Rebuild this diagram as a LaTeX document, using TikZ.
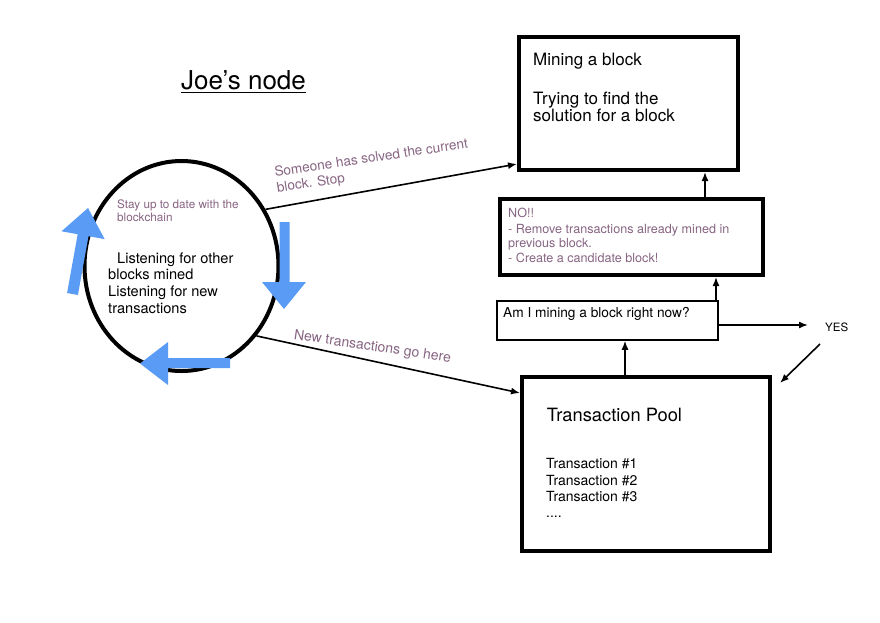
\documentclass[tikz,border=0pt]{standalone}
\usepackage{fontspec}
\setmainfont{TeX Gyre Heros}
\usetikzlibrary{arrows.meta,shapes.geometric}
\definecolor{mauve}{RGB}{135,100,130}
\definecolor{arrblue}{RGB}{90,156,245}
\newcommand{\fs}[1]{\fontsize{#1}{#1}\selectfont}
\begin{document}
\begin{tikzpicture}[x=1pt,y=-1pt,
  thickbox/.style={draw, line width=4pt, inner sep=0pt},
  thinbox/.style={draw, line width=1.5pt, inner sep=0pt},
  txt/.style={anchor=base west, inner sep=0pt},
  arr/.style={line width=1.6pt, -{Latex[length=9pt,width=7pt]}},
  bluearr/.style={fill=arrblue}]
\fill[white] (0,0) rectangle (880,622);
\useasboundingbox (0,0) rectangle (880,622);

% title
\node[txt, font=\fs{26}] (title) at (181,89) {Joe’s node};
\draw[line width=1.5pt] ([shift={(0,3.5)}]title.base west) -- ([shift={(0,3.5)}]title.base east);

% circle
\node[draw, ellipse, line width=4pt, minimum width=194pt, minimum height=210pt, inner sep=0pt] (circ) at (181.5,266) {};

% boxes
\node[thickbox, minimum width=219pt, minimum height=133pt] (mine) at (628.5,103.5) {};
\node[thickbox, minimum width=263pt, minimum height=76pt] (no) at (631.5,237) {};
\node[thinbox, minimum width=221pt, minimum height=39pt] (am) at (607.5,320.5) {};
\node[thickbox, minimum width=248pt, minimum height=174pt] (pool) at (646,464) {};
\node[txt, font=\fs{11.5}] (yes) at (825,331) {YES};

% blue cycle arrows
\fill[bluearr] (67.1,293.0) -- (77.9,295.0) -- (88.5,236.2) -- (104.7,239.1) -- (88,208) -- (61.5,231.3) -- (77.7,234.2) -- cycle;
\fill[bluearr] (279.5,222) -- (289.5,222) -- (289.5,282) -- (306,282) -- (284,309) -- (262,282) -- (279.5,282) -- cycle;
\fill[bluearr] (230,358) -- (230,368) -- (168,368) -- (168,385) -- (140,363.5) -- (168,342) -- (168,358) -- cycle;

% circle texts
\node[txt, mauve, font=\fs{11.7}] (s1) at (117,208) {Stay up to date with the};
\node[txt, mauve, font=\fs{11.7}] (s2) at (117,221) {blockchain};
\node[txt, font=\fs{14.6}] (l1) at (117,263.3) {Listening for other};
\node[txt, font=\fs{14.6}] (l2) at (108,279.3) {blocks mined};
\node[txt, font=\fs{14.6}] (l3) at (108,296.7) {Listening for new};
\node[txt, font=\fs{14.6}] (l4) at (108,313.3) {transactions};

% mining box texts
\node[txt, font=\fs{17}] (m1) at (533,65.7) {Mining a block};
\node[txt, font=\fs{17}] (m2) at (533,104) {Trying to find the};
\node[txt, font=\fs{17}] (m3) at (533,121.7) {solution for a block};

% NO box texts
\node[txt, mauve, font=\fs{12.6}] (n1) at (508,217.7) {NO!!};
\node[txt, mauve, font=\fs{12.6}] (n2) at (508,233.3) {- Remove transactions already mined in};
\node[txt, mauve, font=\fs{12.6}] (n3) at (508,247.3) {previous block.};
\node[txt, mauve, font=\fs{12.6}] (n4) at (508,262) {- Create a candidate block!};

% question
\node[txt, font=\fs{13.7}] (q) at (503,317.3) {Am I mining a block right now?};

% pool texts
\node[txt, font=\fs{18.3}] (p0) at (546.7,421.7) {Transaction Pool};
\node[txt, font=\fs{14}] (p1) at (546,468.3) {Transaction \#1};
\node[txt, font=\fs{14}] (p2) at (546,485) {Transaction \#2};
\node[txt, font=\fs{14}] (p3) at (546,501.7) {Transaction \#3};
\node[txt, font=\fs{14}] (p4) at (546,517) {....};

% connector labels
\node[txt, mauve, font=\fontsize{13.6}{15.9}\selectfont, align=left, rotate=8.5] (c1) at (277.4,192.5) {Someone has solved the current\\block. Stop};
\node[txt, mauve, font=\fs{14}, rotate=-8.3] (c3) at (293.3,339.3) {New transactions go here};

% connectors
\coordinate (c705) at (705,0);
\coordinate (c716) at (716,0);
\coordinate (c625) at (625,0);
\coordinate (ya) at ([shift={(0,-6)}]yes.base west);
\draw[arr] (circ.34) -- ([shift={(0,-8)}]mine.south west);
\draw[arr] (circ.-43) -- ([shift={(0,18)}]pool.north west);
\draw[arr] (no.north -| c705) -- (mine.south -| c705);
\draw[arr] (am.north -| c716) -- (no.south -| c716);
\draw[arr] (pool.north -| c625) -- (am.south -| c625);
\draw[arr] (am.east |- ya) -- ([shift={(-17,0)}]ya);
\draw[arr] ([shift={(-5,13)}]yes.base west) -- ([shift={(8,8)}]pool.north east);
\end{tikzpicture}
\end{document}
